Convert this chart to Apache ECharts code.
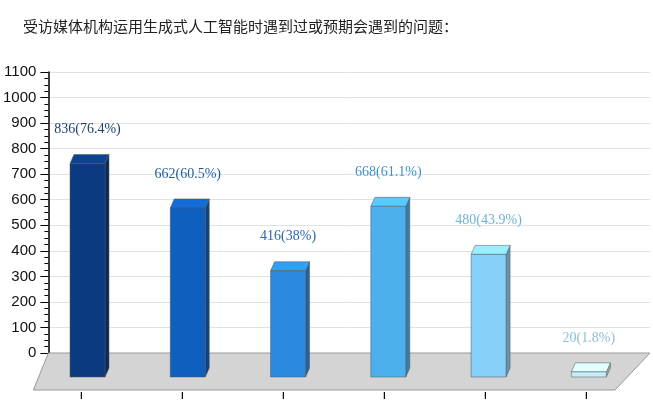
<!DOCTYPE html>
<html><head><meta charset="utf-8">
<script src="https://cdn.jsdelivr.net/npm/echarts@6/dist/echarts.min.js"></script>
<style>html,body{margin:0;padding:0;background:#fff}#c{width:653px;height:400px}</style>
</head><body><div id="c"></div>
<script>
const title = '受访媒体机构运用生成式人工智能时遇到过或预期会遇到的问题：';
const categories = ['A','B','C','D','E','F'];
const values = [836, 662, 416, 668, 480, 20];
const labels = ['836(76.4%)','662(60.5%)','416(38%)','668(61.1%)','480(43.9%)','20(1.8%)'];
const yTicks = [0,100,200,300,400,500,600,700,800,900,1000,1100];
const colors = ['#0c3a80','#0f5fbf','#2b8ae0','#4cb0ec','#86d0fa','#c4eefc'];
const labelColors = ['#1c3f6e','#1d5c9e','#2a6aa8','#3f95c8','#6fb3d6','#8ec0d6'];

const DX=-11, DY=24, BW=35, TX=4, TY=-9;
function shade(hex,f){const n=parseInt(hex.slice(1),16);let r=n>>16,g=(n>>8)&255,b=n&255;
 return 'rgb('+Math.min(255,Math.round(r*f))+','+Math.min(255,Math.round(g*f))+','+Math.min(255,Math.round(b*f))+')';}
const chart = echarts.init(document.getElementById('c'));
chart.setOption({
 backgroundColor:'#fff',
 title:{text:title,left:18,top:14,textStyle:{fontFamily:'Noto Sans CJK SC',fontSize:15,fontWeight:'normal',color:'#222'}},
 grid:{left:45,right:3,top:72,bottom:47},
 xAxis:{type:'category',data:categories,show:false},
 yAxis:{type:'value',min:0,max:1100,interval:100,
  axisLine:{show:true,lineStyle:{color:'#000',width:1.5}},
  axisTick:{show:true,inside:false,length:8,lineStyle:{color:'#000'}},
  minorTick:{show:true,splitNumber:4,length:4,lineStyle:{color:'#000'}},
  splitLine:{lineStyle:{color:'#e2e2e2'}},
  axisLabel:{color:'#111',fontFamily:'Liberation Sans',fontSize:15,margin:12,
   formatter:v=>yTicks.includes(v)?String(v):''}},
 series:[
  {type:'custom',data:[0],silent:true,z:1,renderItem:(p,api)=>{
    const a=api.coord([0,0]), y0=a[1];
    const xs=p.coordSys; const left=xs.x, right=xs.x+xs.width;
    const ch=[{type:'polygon',shape:{points:[[left,y0],[right,y0],[right-35,y0+37],[left-15,y0+37]]},
      style:{fill:'#d4d4d4',stroke:'#999',lineWidth:1}}];
    for(let i=0;i<=5;i++){const x=left+33+i*101; ch.push({type:'line',shape:{x1:x,y1:y0+39,x2:x,y2:y0+46},style:{stroke:'#000',lineWidth:1.2}});}
    return {type:'group',children:ch};}},
  {type:'custom',data:values.map((v,i)=>[i,v]),z:3,renderItem:(p,api)=>{
    const i=api.value(0), v=api.value(1);
    const top=api.coord([i,v]), base=api.coord([i,0]);
    const x0=top[0]+DX-BW/2, x1=x0+BW, yt=top[1]+DY, yb=base[1]+DY;
    const c=colors[i];
    return {type:'group',children:[
     {type:'polygon',shape:{points:[[x1,yt],[x1+TX,yt+TY],[x1+TX,yb+TY],[x1,yb]]},style:{fill:shade(c,0.72),stroke:'#555',lineWidth:0.5}},
     {type:'polygon',shape:{points:[[x0,yt],[x0+TX,yt+TY],[x1+TX,yt+TY],[x1,yt]]},style:{fill:shade(c,1.15),stroke:'#555',lineWidth:0.5}},
     {type:'rect',shape:{x:x0,y:yt,width:BW,height:yb-yt},style:{fill:c,stroke:'#555',lineWidth:0.5}},
     {type:'text',style:{text:labels[i],x:x0+BW/2,y:yt-34,align:'center',verticalAlign:'middle',fill:labelColors[i],font:'14px "Liberation Serif"'}}
    ]};}}
 ]
});
</script></body></html>
